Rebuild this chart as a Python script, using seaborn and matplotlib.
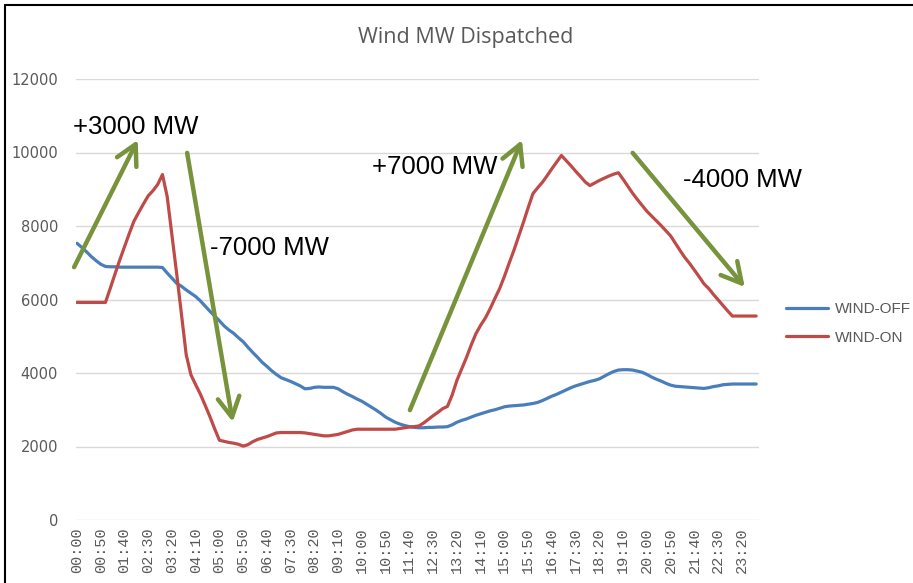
import numpy as np
import pandas as pd
import seaborn as sns
import matplotlib.pyplot as plt
from matplotlib.lines import Line2D

# 10-minute intervals over the day
times = ["%02d:%02d" % (i * 10 // 60, i * 10 % 60) for i in range(144)]

wind_off = [
    7530, 7420, 7300, 7170, 7060, 6960, 6900, 6890, 6890, 6880, 6880, 6880,
    6880, 6880, 6880, 6880, 6880, 6880, 6870, 6720, 6580, 6440, 6360, 6260,
    6170, 6080, 5960, 5820, 5680, 5550, 5420, 5280, 5170, 5080, 4960, 4850,
    4700, 4560, 4430, 4290, 4180, 4060, 3960, 3870, 3820, 3770, 3710, 3650,
    3570, 3580, 3610, 3620, 3610, 3610, 3610, 3570, 3490, 3420, 3360, 3290,
    3230, 3150, 3070, 2990, 2900, 2800, 2730, 2660, 2610, 2570, 2540, 2520,
    2510, 2510, 2520, 2520, 2530, 2530, 2540, 2590, 2660, 2710, 2750, 2800,
    2850, 2890, 2930, 2970, 3000, 3040, 3080, 3100, 3110, 3120, 3130, 3150,
    3170, 3200, 3250, 3310, 3370, 3420, 3480, 3540, 3600, 3650, 3690, 3730,
    3770, 3800, 3840, 3910, 3980, 4040, 4080, 4090, 4090, 4080, 4050, 4020,
    3960, 3890, 3830, 3780, 3720, 3670, 3640, 3630, 3620, 3610, 3600, 3590,
    3580, 3600, 3630, 3650, 3680, 3690, 3700, 3700, 3700, 3700, 3700, 3700,
]

wind_on = [
    5920, 5920, 5920, 5920, 5920, 5920, 5920, 6300, 6690, 7070, 7430, 7790,
    8130, 8370, 8600, 8820, 8960, 9130, 9400, 8800, 7750, 6700, 5600, 4500,
    3950, 3680, 3420, 3120, 2810, 2480, 2170, 2140, 2110, 2090, 2060, 2010,
    2050, 2130, 2190, 2230, 2270, 2320, 2370, 2380, 2380, 2380, 2380, 2380,
    2370, 2350, 2330, 2310, 2290, 2290, 2310, 2330, 2370, 2410, 2450, 2470,
    2470, 2470, 2470, 2470, 2470, 2470, 2470, 2470, 2490, 2510, 2530, 2540,
    2560, 2640, 2740, 2840, 2930, 3030, 3090, 3400, 3800, 4110, 4420, 4760,
    5070, 5300, 5500, 5750, 6030, 6300, 6630, 6990, 7340, 7720, 8100, 8500,
    8880, 9040, 9190, 9370, 9560, 9740, 9920, 9780, 9640, 9490, 9350, 9200,
    9100, 9170, 9240, 9300, 9360, 9410, 9450, 9270, 9080, 8890, 8720, 8560,
    8400, 8270, 8140, 8010, 7870, 7730, 7530, 7330, 7140, 6980, 6800, 6620,
    6430, 6300, 6140, 5990, 5840, 5690, 5550, 5550, 5550, 5550, 5550, 5550,
]

series_names = ["WIND-OFF", "WIND-ON"]
series_colors = ["#4A7EBB", "#BE4B48"]

# (label, text x idx, text y, arrow tail (idx, MW), arrow tip (idx, MW))
notes = [
    ("+3000 MW", -0.8, 10690, (-0.6, 6880), (12.8, 10340)),
    ("-7000 MW", 28.0, 7400, (23.2, 9990), (32.8, 2670)),
    ("+7000 MW", 62.1, 9600, (70.1, 2990), (93.7, 10340)),
    ("-4000 MW", 127.6, 9250, (117.0, 9990), (140.6, 6340)),
]

df = pd.DataFrame({
    "idx": list(range(len(times))) * 2,
    "MW": wind_off + wind_on,
    "series": [series_names[0]] * len(times) + [series_names[1]] * len(times),
})

sns.set_style("white")
plt.rcParams["font.family"] = ["Liberation Sans", "DejaVu Sans"]

fig = plt.figure(figsize=(9.13, 5.83), dpi=100)
ax = fig.add_axes([76 / 913, 63 / 583, (759 - 76) / 913, (520 - 79) / 583])

sns.lineplot(data=df, x="idx", y="MW", hue="series", hue_order=series_names,
             palette=series_colors, linewidth=2.3, ax=ax)

ax.set_xlim(-0.2, 143.6)
ax.set_ylim(0, 12000)
ax.set_yticks(range(0, 12001, 2000))
ax.set_yticklabels([str(v) for v in range(0, 12001, 2000)],
                   fontsize=10.5, color="#595959", family="DejaVu Sans")
ax.set_xticks(range(0, 144, 5))
ax.set_xticklabels(times[::5], rotation=90, fontsize=11, color="#595959",
                   family="Liberation Mono")
ax.tick_params(axis="y", length=0, pad=13)
ax.tick_params(axis="x", length=0, pad=5)
ax.set_xlabel("")
ax.set_ylabel("")
ax.yaxis.grid(True, color="#D9D9D9", linewidth=1)
ax.set_axisbelow(True)
for s in ax.spines.values():
    s.set_visible(False)

sns.move_legend(ax, "center left", bbox_to_anchor=(1.04, 0.446), frameon=False,
                title=None, fontsize=11, handlelength=2.7, handletextpad=0.45,
                labelspacing=0.95, borderpad=0, borderaxespad=0)
for t in ax.get_legend().get_texts():
    t.set_color("#595959")

for label, tx, ty, tail, tip in notes:
    ax.annotate("", xy=tip, xytext=tail, annotation_clip=False,
                arrowprops=dict(arrowstyle="->,head_length=1.2,head_width=0.65",
                                mutation_scale=12, lw=3.2, color="#77933C",
                                shrinkA=0, shrinkB=0))
    ax.text(tx, ty, label, fontsize=18.5, color="black", ha="left", va="center")

fig.text(466 / 913, 1 - 37 / 583, "Wind MW Dispatched", fontsize=15.5,
         color="#595959", ha="center", va="center", family="Open Sans")

# outer frame of the cropped screenshot
fig.add_artist(Line2D([5 / 913, 5 / 913], [0, 1 - 5 / 583], color="black", lw=1.5))
fig.add_artist(Line2D([5 / 913, 1], [1 - 5 / 583, 1 - 5 / 583], color="black", lw=1.5))

fig.savefig("out.png", dpi=100)
